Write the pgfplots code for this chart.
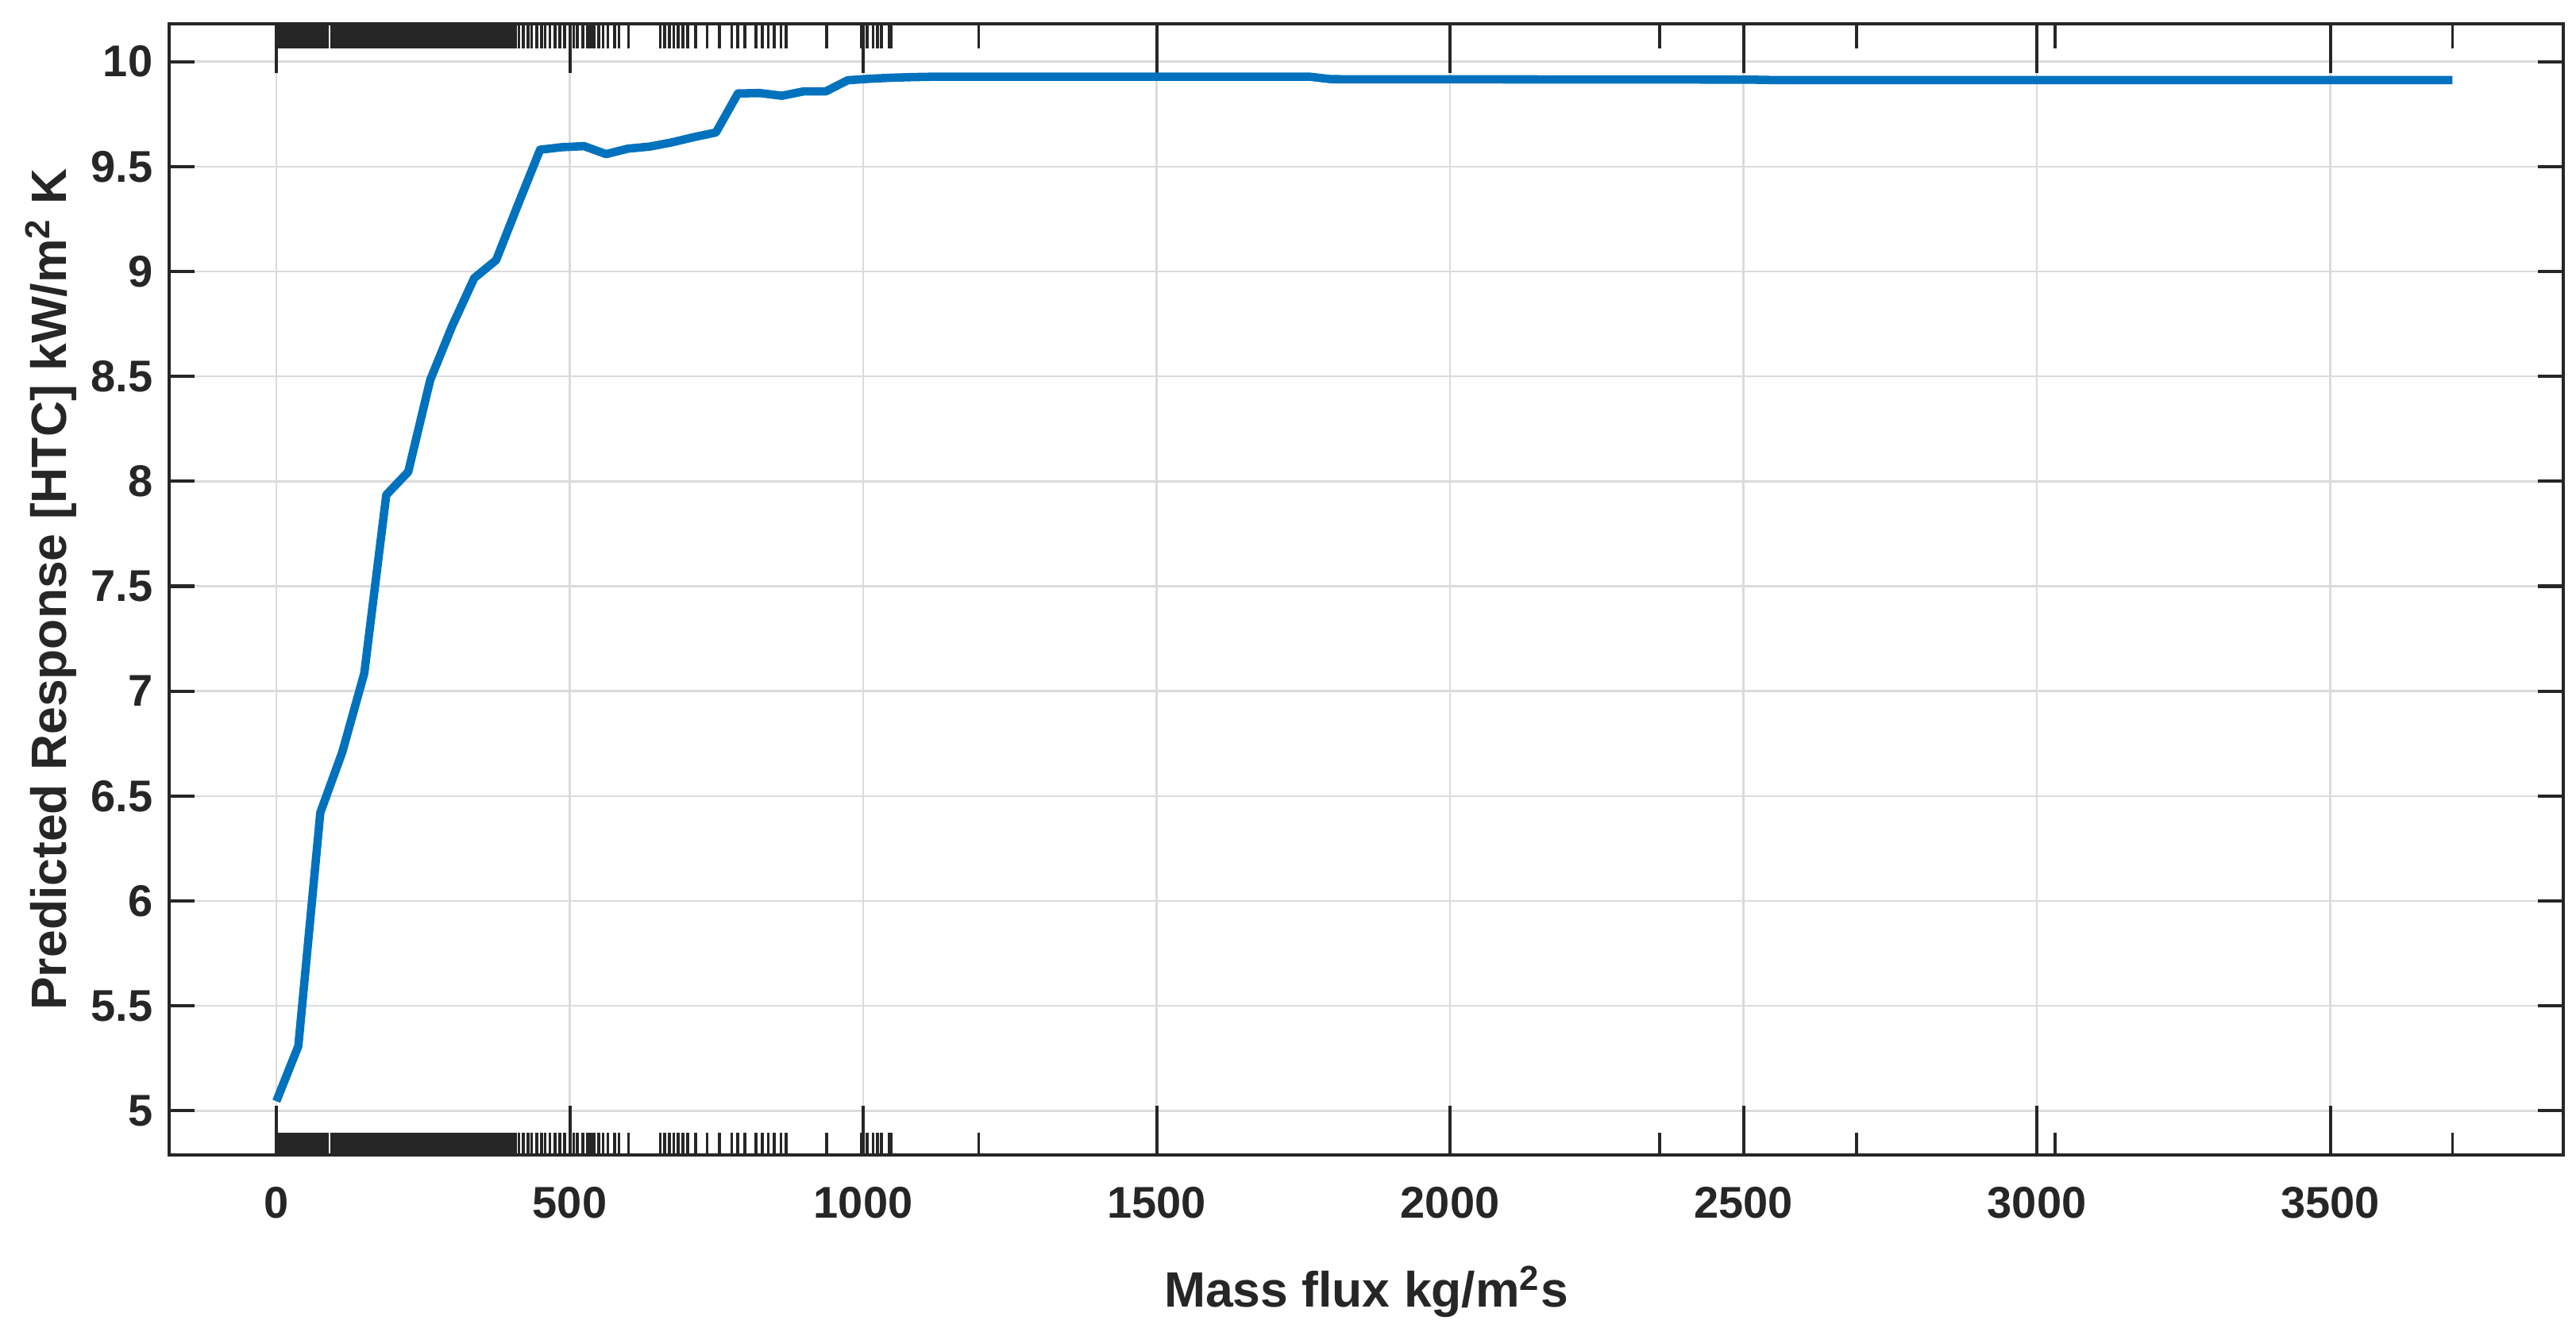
\documentclass[border=0pt]{standalone}
\usepackage{fontspec}
\setmainfont{Liberation Sans}
\usepackage{pgfplots}
\usepackage{pgfplotstable}
\pgfplotsset{compat=1.18}
\definecolor{mblue}{HTML}{0072BD}
\definecolor{maxis}{HTML}{262626}

\pgfplotstableread{
x y
0 5.046
37.45 5.309
74.9 6.421
112.4 6.71
149.8 7.085
187.3 7.935
224.7 8.045
262.2 8.483
299.6 8.74
337.1 8.968
374.5 9.054
412.0 9.32
449.4 9.580
486.9 9.592
524.3 9.597
561.8 9.559
599.2 9.585
636.7 9.595
674.1 9.615
711.6 9.640
749.0 9.662
786.5 9.848
823.9 9.850
861.4 9.837
898.8 9.858
936.3 9.858
973.7 9.911
1011.2 9.918
1048.6 9.923
1086.1 9.926
1123.5 9.928
1760.0 9.928
1797.6 9.916
2509.0 9.914
2547.0 9.912
3708.0 9.912
}\pdp

\pgfplotstableread{
x yb yt
413.4 4.79 10.18
421 4.79 10.18
429 4.79 10.18
435 4.79 10.18
444 4.79 10.18
452 4.79 10.18
458 4.79 10.18
466 4.79 10.18
475 4.79 10.18
483 4.79 10.18
491 4.79 10.18
506.6 4.79 10.18
513 4.79 10.18
522 4.79 10.18
530 4.79 10.18
536 4.79 10.18
541.5 4.79 10.18
549 4.79 10.18
557 4.79 10.18
565 4.79 10.18
576 4.79 10.18
584 4.79 10.18
600 4.79 10.18
654 4.79 10.18
662 4.79 10.18
670 4.79 10.18
677 4.79 10.18
685 4.79 10.18
693 4.79 10.18
701 4.79 10.18
714 4.79 10.18
734 4.79 10.18
755 4.79 10.18
776 4.79 10.18
786 4.79 10.18
798 4.79 10.18
817 4.79 10.18
828 4.79 10.18
838 4.79 10.18
848 4.79 10.18
860 4.79 10.18
869 4.79 10.18
938 4.79 10.18
997 4.79 10.18
1007 4.79 10.18
1017 4.79 10.18
1024 4.79 10.18
1031 4.79 10.18
1044 4.79 10.18
1048 4.79 10.18
1197 4.79 10.18
2357 4.79 10.18
2693 4.79 10.18
3031 4.79 10.18
3708 4.79 10.18
}\rug

\pgfplotstableread{
xl xr v
-182.7 3897 5
-182.7 3897 5.5
-182.7 3897 6
-182.7 3897 6.5
-182.7 3897 7
-182.7 3897 7.5
-182.7 3897 8
-182.7 3897 8.5
-182.7 3897 9
-182.7 3897 9.5
-182.7 3897 10
}\yt

\begin{document}
\begin{tikzpicture}
\useasboundingbox (-52.53pt,-53.76pt) rectangle (747.45pt,358.8pt);
\begin{axis}[
  at={(0,0)}, anchor=south west, scale only axis,
  width=743.5pt, height=351.4pt,
  xmin=-182.7, xmax=3897, ymin=4.79, ymax=10.18,
  xtick={0,500,1000,1500,2000,2500,3000,3500},
  ytick={5,5.5,6,6.5,7,7.5,8,8.5,9,9.5,10},
  yticklabels={5,5.5,6,6.5,7,7.5,8,8.5,9,9.5,10},
  /pgf/number format/1000 sep={},
  major tick length=0pt,
  grid=major,
  major grid style={black!14, line width=0.6pt},
  axis line style={maxis, line width=1pt},
  /pgf/number format/assume math mode=true,
  ticklabel style={font=\fontsize{13.8}{16}\selectfont\bfseries, color=maxis},
  xticklabel style={yshift=-6.4pt},
  yticklabel style={xshift=-1.6pt},
  xlabel={Mass flux kg/m\textsuperscript{2}s},
  ylabel={Predicted Response [HTC] kW/m\textsuperscript{2} K},
  xlabel style={at={(rel axis cs:0.5,0)}, anchor=base, yshift=-47.3pt,
    font=\fontsize{15.4}{18}\selectfont\bfseries, color=maxis},
  ylabel style={at={([xshift=-32pt]rel axis cs:0,0.5)}, anchor=base,
    font=\fontsize{15.4}{18}\selectfont\bfseries, color=maxis},
]
% dense rug blocks (bottom and top)
\addplot[fill=maxis, draw=none, mark=none] coordinates {(0,4.79) (89.5,4.79) (89.5,4.896) (0,4.896)};
\addplot[fill=maxis, draw=none, mark=none] coordinates {(92,4.79) (410,4.79) (410,4.896) (92,4.896)};
\addplot[fill=maxis, draw=none, mark=none] coordinates {(0,10.18) (89.5,10.18) (89.5,10.063) (0,10.063)};
\addplot[fill=maxis, draw=none, mark=none] coordinates {(92,10.18) (410,10.18) (410,10.063) (92,10.063)};
% sparse rug marks
\addplot[maxis, line width=0.9pt, mark=none, quiver={u=0,v=0.106}] table[x=x, y=yb] {\rug};
\addplot[maxis, line width=0.9pt, mark=none, quiver={u=0,v=-0.117}] table[x=x, y=yt] {\rug};
% x ticks (inward, bottom and top)
\addplot[maxis, line width=1pt, mark=none, quiver={u=0,v=0.236}] coordinates {(0,4.79) (500,4.79) (1000,4.79) (1500,4.79) (2000,4.79) (2500,4.79) (3000,4.79) (3500,4.79)};
\addplot[maxis, line width=1pt, mark=none, quiver={u=0,v=-0.236}] coordinates {(0,10.18) (500,10.18) (1000,10.18) (1500,10.18) (2000,10.18) (2500,10.18) (3000,10.18) (3500,10.18)};
% y ticks (inward, left and right)
\addplot[maxis, line width=1pt, mark=none, quiver={u=43.3,v=0}] table[x=xl, y=v] {\yt};
\addplot[maxis, line width=1pt, mark=none, quiver={u=-43.3,v=0}] table[x=xr, y=v] {\yt};
% partial dependence curve
\addplot[mblue, line width=2.6pt, mark=none, line join=round] table[x=x, y=y] {\pdp};
\end{axis}
\end{tikzpicture}
\end{document}
